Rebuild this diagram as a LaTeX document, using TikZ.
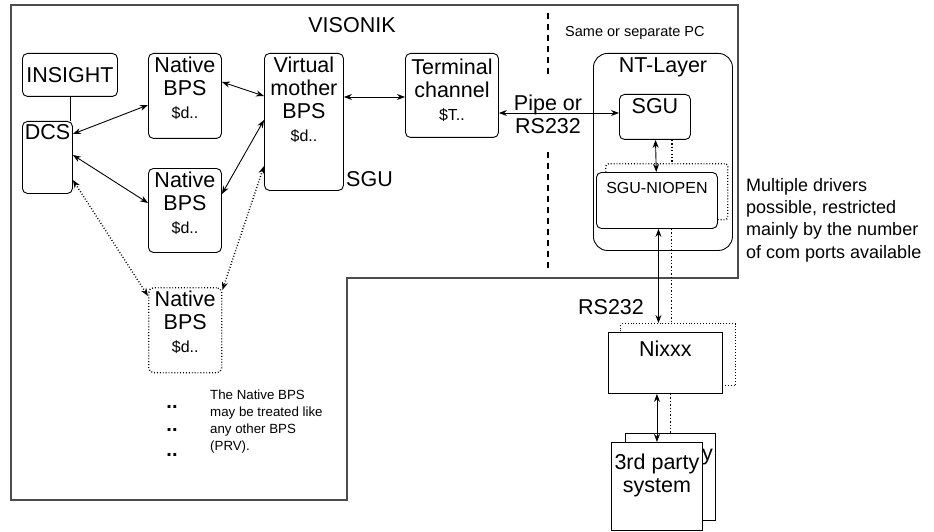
\documentclass[tikz,border=0pt]{standalone}
\usepackage{fontspec}
\setmainfont{Liberation Sans}
\usetikzlibrary{arrows.meta}

\begin{document}
\begin{tikzpicture}[x=1pt, y=-1pt, >={Stealth[length=8pt, width=6pt]},
        every node/.style={font=\fontsize{21.5}{23}\selectfont},
        box/.style={draw, rounded corners=5pt, line width=0.9pt, anchor=north west, inner sep=0pt},
        sqbox/.style={draw, line width=0.9pt, anchor=north west, inner sep=0pt},
        toptext/.style 2 args={label={[anchor=north, align=center, inner sep=#1]north:#2}},
        link/.style={<->, line width=0.9pt},
        dots/.style={dotted, line width=1.4pt}]
        \useasboundingbox (0,0) rectangle (934,532);
        \draw[line width=1.5pt, black!70] (11,5) -- (738,5) -- (738,278) -- (347,278) -- (347,500) -- (11,500) -- cycle;
        \draw[dash pattern=on 6pt off 5pt, line width=1.3pt] (548,13) -- (548,75);
        \draw[dash pattern=on 6pt off 5pt, line width=1.3pt] (548,152) -- (548,270);
        \node (visonik) at (352,25) {VISONIK};
        \node[anchor=west, inner sep=0pt, font=\fontsize{14.5}{17}\selectfont] (pc) at (565,33) {Same or separate PC};
        \node[box, minimum width=95pt, minimum height=43pt] (insight) at (22,53) {INSIGHT};
        \node[box, minimum width=50pt, minimum height=72pt, toptext={3pt}{DCS}] (dcs) at (22,121) {};
        \node[box, minimum width=73pt, minimum height=85pt,
            toptext={4pt}{Native\\BPS\\{\fontsize{16}{19}\selectfont\$d..}}] (nat1) at (148,53) {};
        \node[box, minimum width=73pt, minimum height=84pt,
            toptext={4pt}{Native\\BPS\\{\fontsize{16}{19}\selectfont\$d..}}] (nat2) at (148,168) {};
        \node[box, dots, minimum width=73pt, minimum height=85pt,
            toptext={4pt}{Native\\BPS\\{\fontsize{16}{19}\selectfont\$d..}}] (nat3) at (148,287) {};
        \node[box, minimum width=79pt, minimum height=137pt,
            toptext={4pt}{Virtual\\mother\\BPS\\{\fontsize{16}{19}\selectfont\$d..}}] (virt) at (264,53) {};
        \node[anchor=base west, inner sep=0pt] (virtsgu) at (346,186) {SGU};
        \node[box, minimum width=93pt, minimum height=84pt,
            toptext={6pt}{Terminal\\channel\\{\fontsize{16}{19}\selectfont\$T..}}] (term) at (405,53) {};
        \node[box, rounded corners=14pt, minimum width=139pt, minimum height=197pt, toptext={5pt}{NT-Layer}] (ntl) at (593,53) {};
        \node[box, minimum width=71pt, minimum height=45pt, toptext={4pt}{SGU}] (sgu) at (619,94) {};
        \node[box, dots, rounded corners=3pt, minimum width=122pt, minimum height=56pt] (niopsh) at (605,163) {};
        \node[box, fill=white, minimum width=121pt, minimum height=56pt,
            toptext={10pt}{\fontsize{16}{18}\selectfont SGU-NIOPEN}] (niop) at (596,172) {};
        \node[anchor=north west, align=left, inner sep=0pt, font=\fontsize{18}{22.3}\selectfont] (multi) at (746,178)
            {Multiple drivers\\possible, restricted\\mainly by the number\\of com ports available};
        \node[inner sep=0pt, align=center] (pipe) at (548,114) {Pipe or\\RS232};
        \node[inner sep=0pt] (rslab) at (611,307) {RS232};
        \node[sqbox, dots, minimum width=115pt, minimum height=62pt] (nixsh) at (620,323) {};
        \node[sqbox, fill=white, minimum width=114pt, minimum height=61pt, toptext={9pt}{Nixxx}] (nix) at (608,332) {};
        \node[sqbox, minimum width=90pt, minimum height=87pt, toptext={12pt}{3rd party\\system}] (party2) at (625,433) {};
        \node[sqbox, fill=white, minimum width=91pt, minimum height=88pt, toptext={12pt}{3rd party\\system}] (party) at (611,442) {};
        \foreach \y/\n in {407/a,430/b,455/c}
            \node[inner sep=0pt, font=\fontsize{20}{20}\selectfont\bfseries] (dot\n) at (172,\y) {..};
        \node[anchor=north west, align=left, inner sep=0pt, font=\fontsize{13.3}{17}\selectfont] (note) at (210,390)
            {The Native BPS\\may be treated like\\any other BPS\\(PRV).};
        \draw (insight) -- (insight |- dcs.north);
        \draw[link] ([yshift=-13pt]dcs.north east) -- ([yshift=-52pt]nat1.north west);
        \draw[link] ([yshift=-34pt]dcs.north east) -- ([yshift=-35pt]nat2.north west);
        \draw[link, dots] ([yshift=-59pt]dcs.north east) -- ([yshift=-9pt]nat3.north west);
        \draw[link] ([yshift=-29pt]nat1.north east) -- ([yshift=-43pt]virt.north west);
        \draw[link] ([yshift=-26pt]nat2.north east) -- ([yshift=-67pt]virt.north west);
        \draw[link, dots] ([yshift=-113pt]virt.north west) -- ([yshift=-3pt]nat3.north east);
        \draw[link] ([yshift=-44pt]virt.north east) -- ([yshift=-44pt]term.north west);
        \draw[link] ([yshift=-60pt]term.north east) -- ([yshift=-19pt]sgu.north west);
        \draw[link] (sgu) -- (niop);
        \draw[dots] ([xshift=17pt]sgu.south) -- ([xshift=17pt]sgu.south |- niopsh.north);
        \draw[link] ([xshift=1.5pt]niop.south) -- ([xshift=1.5pt]niop.south |- nixsh.north);
        \draw[dots] ([xshift=14.5pt]niop.south) -- ([xshift=14.5pt]niop.south |- nixsh.north);
        \draw[link] (party.north |- nix.south) -- (party.north);
        \draw[dots] (party2.north |- nix.south) -- (party2.north);
    \end{tikzpicture}
\end{document}
